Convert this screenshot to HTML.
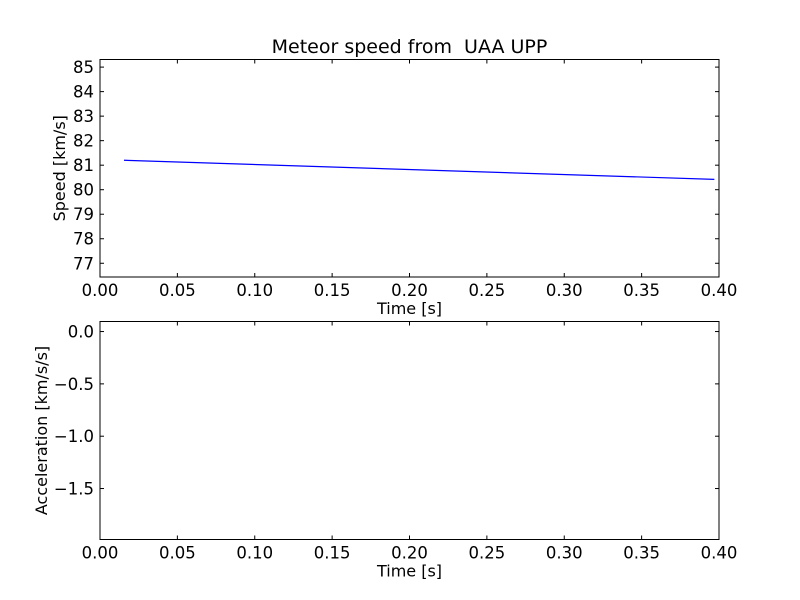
<!DOCTYPE html>
<html><head><meta charset="utf-8"><style>
body{margin:0;background:#fff}
svg{display:block;font-family:"DejaVu Sans","Liberation Sans",sans-serif}
text{white-space:pre}
</style></head><body>
<svg id="chart" width="800" height="600">
<rect width="800" height="600" fill="#fff"/>
</svg>
<script>
const timeValues=[0.0155,0.397];
const speedValues=[81.2,80.42];
const xTicks=[0,0.05,0.1,0.15,0.2,0.25,0.3,0.35,0.4];
const xTickLabels=["0.00","0.05","0.10","0.15","0.20","0.25","0.30","0.35","0.40"];
const speedTicks=[77,78,79,80,81,82,83,84,85];
const accelTicks=[0,-0.5,-1,-1.5];
const accelTickLabels=["0.0","\u22120.5","\u22121.0","\u22121.5"];

const svg=document.getElementById('chart');
const NS='http://www.w3.org/2000/svg';
function mk(tag,attrs,parent){const e=document.createElementNS(NS,tag);for(const k in attrs)e.setAttribute(k,attrs[k]);(parent||svg).appendChild(e);return e;}

function panel(name,top,bottom,ymin,ymax,yt,ytl,ylabel){
  const L=100,R=719;
  const g=mk('g',{});
  
  
  const sx=v=>L+(v-0)/(0.4-0)*(R-L);
  const sy=v=>bottom-(v-ymin)/(ymax-ymin)*(bottom-top);
  xTicks.forEach((t,i)=>{
    const x=sx(t);
    mk('line',{x1:x,x2:x,y1:bottom,y2:bottom-4,stroke:'#000'},g);
    mk('line',{x1:x,x2:x,y1:top,y2:top+4,stroke:'#000'},g);
    const tx=mk('text',{x:x,y:bottom+19,'font-size':16.5,'text-anchor':'middle'},g);
    
    
    tx.textContent=xTickLabels[i];
  });
  yt.forEach((t,i)=>{
    const y=sy(t);
    mk('line',{x1:L,x2:L+4,y1:y,y2:y,stroke:'#000'},g);
    mk('line',{x1:R,x2:R-4,y1:y,y2:y,stroke:'#000'},g);
    const tx=mk('text',{x:L-6,y:y+6,'font-size':16.5,'text-anchor':'end'},g);
    
    
    tx.textContent=ytl[i];
  });
  const xl=mk('text',{x:(L+R)/2,y:bottom+37,'font-size':16,'text-anchor':'middle'},g);
  
  
  xl.textContent='Time [s]';
  const yx=ylabel.x, yy=(top+bottom)/2;
  const yl=mk('text',{x:yx,y:yy,'font-size':16,'text-anchor':'middle',transform:`rotate(-90 ${yx} ${yy})`},g);
  
  
  yl.textContent=ylabel.t;
  return {g,sx,sy,L,R};
}

const p1=panel('speed-panel',59.5,277,76.44,85.31,speedTicks,speedTicks.map(String),{x:65,t:'Speed [km/s]'});
const pts=timeValues.map((t,i)=>p1.sx(t)+','+p1.sy(speedValues[i])).join(' ');
const line=mk('polyline',{points:pts,fill:'none',stroke:'#0000ff','stroke-width':1.2},p1.g);


const f1=mk('rect',{x:100,y:59.5,width:619,height:217.5,fill:'none',stroke:'#000','stroke-width':1},p1.g);



const p2=panel('acceleration-panel',321.5,539.5,-1.987,0.096,accelTicks,accelTickLabels,{x:47,t:'Acceleration [km/s/s]'});
const f2=mk('rect',{x:100,y:321.5,width:619,height:218,fill:'none',stroke:'#000','stroke-width':1},p2.g);



const title=mk('text',{x:409.5,y:53,'font-size':19,'text-anchor':'middle'});


title.textContent='Meteor speed from  UAA UPP';
</script>
</body></html>
